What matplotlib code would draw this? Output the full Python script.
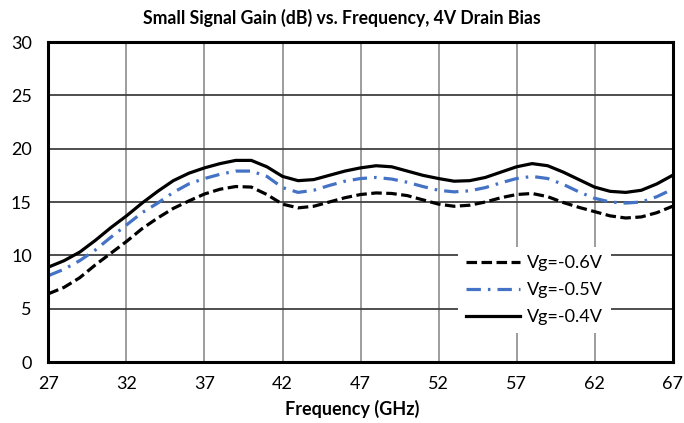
import numpy as np
import matplotlib
matplotlib.use('Agg')
import matplotlib.pyplot as plt

plt.rcParams['font.family'] = ['Lato', 'DejaVu Sans']

# Frequency points (GHz)
freq = list(range(27, 68))

# Small signal gain (dB)
gain_06 = [6.4, 7.0, 7.9, 9.1, 10.2, 11.3, 12.5, 13.5, 14.4, 15.1,
           15.75, 16.2, 16.45, 16.4, 15.7, 14.8, 14.45, 14.6, 15.0, 15.4,
           15.7, 15.85, 15.8, 15.6, 15.2, 14.8, 14.6, 14.7, 15.0, 15.4,
           15.7, 15.8, 15.5, 14.95, 14.5, 14.1, 13.7, 13.5, 13.6, 14.0, 14.6]
gain_05 = [8.1, 8.7, 9.5, 10.5, 11.7, 12.85, 14.0, 14.9, 15.9, 16.7,
           17.2, 17.6, 17.9, 17.9, 17.4, 16.35, 15.9, 16.1, 16.55, 16.95,
           17.2, 17.3, 17.15, 16.85, 16.45, 16.1, 15.95, 16.05, 16.35, 16.8,
           17.2, 17.4, 17.2, 16.65, 15.95, 15.35, 15.0, 14.9, 15.0, 15.5, 16.2]
gain_04 = [8.9, 9.5, 10.3, 11.4, 12.6, 13.7, 14.9, 16.0, 17.0, 17.7,
           18.2, 18.6, 18.9, 18.9, 18.3, 17.4, 17.0, 17.1, 17.5, 17.9,
           18.2, 18.4, 18.3, 17.9, 17.5, 17.2, 16.95, 17.0, 17.3, 17.8,
           18.3, 18.6, 18.4, 17.8, 17.1, 16.4, 16.0, 15.9, 16.1, 16.7, 17.5]

x_ticks = [27, 32, 37, 42, 47, 52, 57, 62, 67]
y_ticks = [0, 5, 10, 15, 20, 25, 30]

fig = plt.figure(figsize=(6.84, 4.23), dpi=100)
ax = fig.add_axes([0.0709, 0.1442, 0.9123, 0.7565])

for xv in x_ticks[1:-1]:
    ax.axvline(xv, color='#8c8c8c', lw=1.2, zorder=1)
for yv in y_ticks[1:-1]:
    ax.axhline(yv, color='#404040', lw=1.3, zorder=1)

ax.plot(freq, gain_06, color='black', lw=2.3, ls=(0, (3.3, 1.4)), label='Vg=-0.6V', zorder=3)
ax.plot(freq, gain_05, color='#4472C4', lw=2.3, ls=(0, (4.5, 2.2, 0.8, 2.2)), label='Vg=-0.5V', zorder=3)
ax.plot(freq, gain_04, color='black', lw=2.3, label='Vg=-0.4V', zorder=3)

ax.set_xlim(27, 67)
ax.set_ylim(0, 30)
ax.set_xticks(x_ticks)
ax.set_yticks(y_ticks)
ax.tick_params(length=0, labelsize=13)
ax.tick_params(axis='y', pad=12)
ax.tick_params(axis='x', pad=10)
for s in ax.spines.values():
    s.set_linewidth(2.2)
    s.set_color('black')
    s.set_zorder(4)

ax.set_xlabel('Frequency (GHz)', fontsize=13, fontweight='bold', labelpad=6)
ax.xaxis.label.set_x(0.487)
fig.text(0.5, 0.957, 'Small Signal Gain (dB) vs. Frequency, 4V Drain Bias',
         ha='center', va='center', fontsize=12.7, fontweight='bold')

leg = ax.legend(loc='upper left', bbox_to_anchor=(0.656, 0.36), borderaxespad=0,
                fontsize=13, frameon=True, fancybox=False, framealpha=1,
                handlelength=3.0, handletextpad=0.4, labelspacing=0.62,
                borderpad=0.45)
leg.get_frame().set_edgecolor('white')
leg.get_frame().set_linewidth(0)
leg.set_zorder(5)

fig.savefig('out.png', dpi=100)
